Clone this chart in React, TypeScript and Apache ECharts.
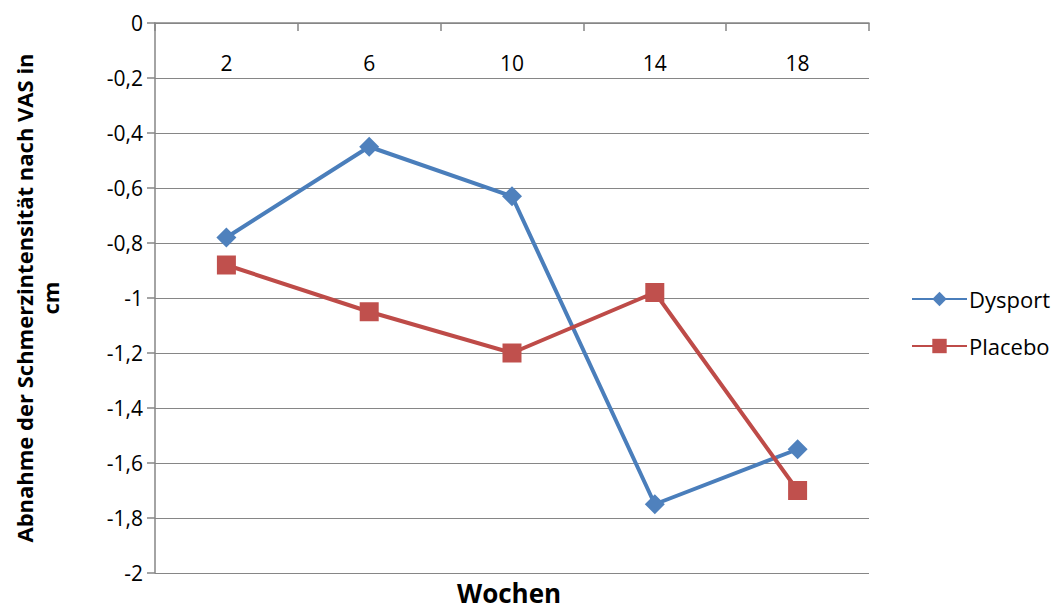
import React, { useEffect, useRef } from "react";
import * as echarts from "echarts";

const weeks = ["2", "6", "10", "14", "18"];
const dysport = [-0.78, -0.45, -0.63, -1.75, -1.55];
const placebo = [-0.88, -1.05, -1.2, -0.98, -1.7];

const FONT = "'Open Sans', 'Noto Sans', sans-serif";

export default function App() {
  const ref = useRef<HTMLDivElement>(null);
  useEffect(() => {
    if (!ref.current) return;
    const chart = echarts.init(ref.current, null, { renderer: "svg" });
    chart.setOption({
      animation: false,
      backgroundColor: "#ffffff",
      textStyle: { fontFamily: FONT },
      grid: { left: 155, right: 185, top: 23, bottom: 39, containLabel: false },
      legend: {
        orient: "vertical",
        left: 906,
        top: 283,
        itemWidth: 55,
        itemHeight: 18,
        itemGap: 25,
        textStyle: { fontSize: 22, color: "#000", fontFamily: FONT, padding: [0, 0, 0, -3] },
        data: ["Dysport", "Placebo"],
      },
      xAxis: {
        type: "category",
        data: weeks,
        position: "top",
        boundaryGap: true,
        axisLine: { show: true, lineStyle: { color: "#868686", width: 1.5 } },
        axisTick: { show: true, inside: true, length: 8, lineStyle: { color: "#868686", width: 1.5 } },
        axisLabel: { inside: true, margin: 29, fontSize: 21, color: "#000", fontFamily: FONT },
        splitLine: { show: false },
      },
      yAxis: {
        type: "value",
        min: -2,
        max: 0,
        interval: 0.2,
        name: "Abnahme der Schmerzintensität nach VAS in\ncm",
        nameLocation: "middle",
        nameRotate: 90,
        nameGap: 92,
        nameTextStyle: { fontSize: 22, fontWeight: "bold", color: "#000", fontFamily: FONT, lineHeight: 26, align: "center" },
        axisLine: { show: true, lineStyle: { color: "#868686", width: 1.5 } },
        axisTick: { show: true, inside: false, length: 8, lineStyle: { color: "#868686", width: 1.5 } },
        axisLabel: {
          fontSize: 21,
          color: "#000",
          fontFamily: FONT,
          margin: 12,
          formatter: (v: number) => {
            const r = Math.round(v * 10) / 10;
            return String(r).replace(".", ",");
          },
        },
        splitLine: { show: true, lineStyle: { color: "#868686", width: 1.2 } },
      },
      graphic: [
        {
          type: "text",
          left: 457,
          top: 580,
          style: { text: "Wochen", fontSize: 26, fontWeight: "bold", fill: "#000", fontFamily: FONT },
        },
      ],
      series: [
        {
          name: "Dysport",
          type: "line",
          data: dysport,
          symbol: "diamond",
          symbolSize: 20,
          lineStyle: { color: "#4A7EBB", width: 4 },
          itemStyle: { color: "#4F81BD" },
        },
        {
          name: "Placebo",
          type: "line",
          data: placebo,
          symbol: "rect",
          symbolSize: 19,
          lineStyle: { color: "#BE4B48", width: 4 },
          itemStyle: { color: "#C0504D" },
        },
      ],
    });
    return () => chart.dispose();
  }, []);
  return <div ref={ref} style={{ width: 1054, height: 612, position: "absolute", left: 0, top: 0 }} />;
}
